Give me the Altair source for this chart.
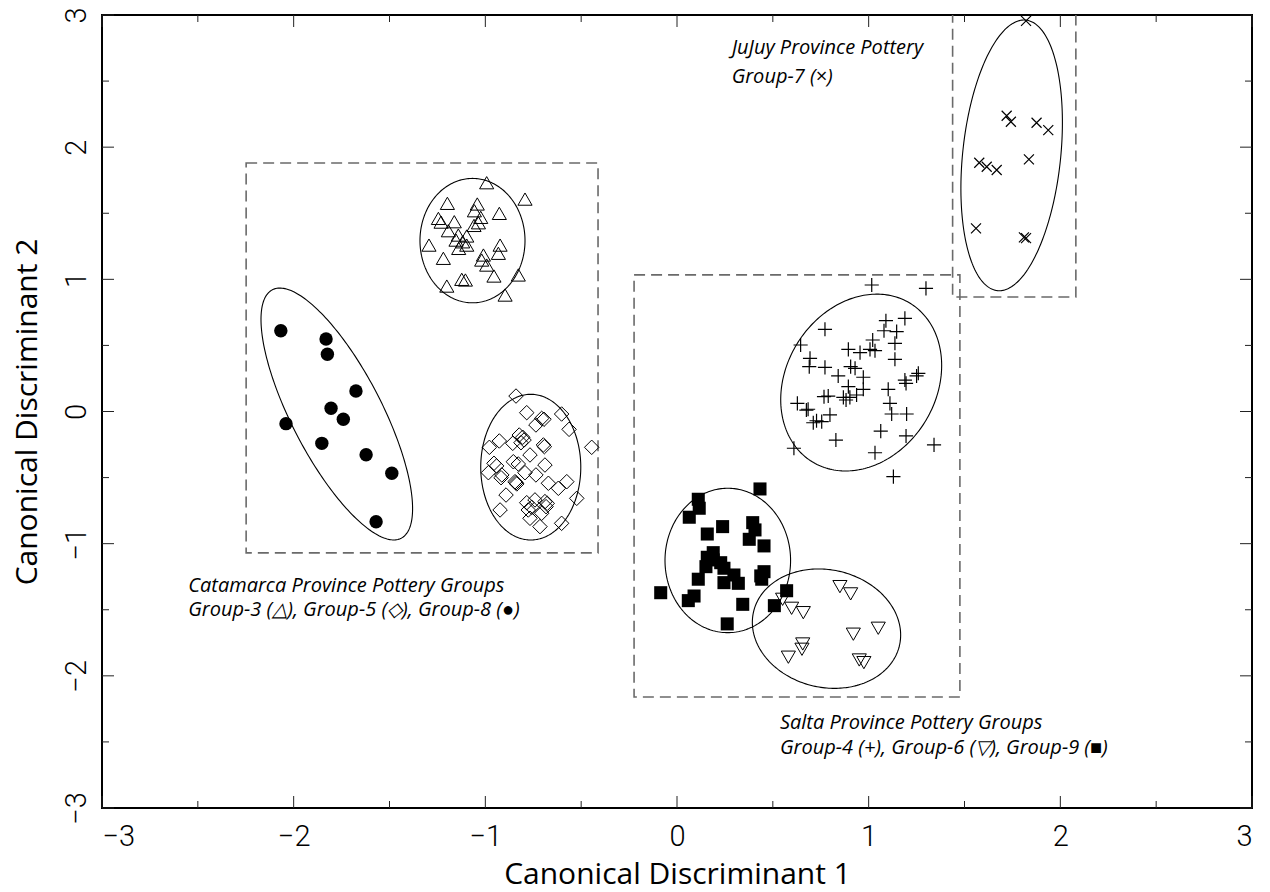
import numpy as np
import pandas as pd
import altair as alt

# plot area in pixels
W, H = 1150, 793

# ---- Catamarca Province groups ----
# Group-3 (open triangles)
g3_x = [-0.993, -0.793, -1.198, -1.042, -1.057, -0.927, -1.245, -1.231, -1.162, -1.024,
        -1.036, -1.059, -1.193, -1.141, -1.097, -1.153, -1.118, -1.294, -1.139, -1.097,
        -0.923, -0.932, -1.219, -1.010, -1.019, -0.993, -0.828, -0.955, -1.123, -1.104,
        -1.201, -0.897]
g3_y = [1.731, 1.607, 1.575, 1.570, 1.519, 1.499, 1.461, 1.433, 1.436, 1.469,
        1.428, 1.408, 1.368, 1.335, 1.328, 1.297, 1.284, 1.259, 1.234, 1.259,
        1.259, 1.197, 1.159, 1.184, 1.146, 1.108, 1.033, 1.025, 1.000, 0.995,
        0.949, 0.881]

# Group-5 (open diamonds)
g5_x = [-0.840, -0.784, -0.706, -0.694, -0.602, -0.563, -0.736, -0.823, -0.805, -0.798,
        -0.814, -0.927, -0.979, -0.857, -0.697, -0.692, -0.445, -0.767, -0.955, -0.941,
        -0.854, -0.828, -0.689, -0.984, -0.914, -0.793, -0.736, -0.918, -0.845, -0.840,
        -0.836, -0.671, -0.575, -0.619, -0.892, -0.523, -0.784, -0.741, -0.689, -0.677,
        -0.683, -0.758, -0.776, -0.923, -0.767, -0.706, -0.602, -0.715]
g5_y = [0.117, -0.009, -0.052, -0.059, -0.019, -0.135, -0.102, -0.178, -0.195, -0.216,
        -0.236, -0.223, -0.271, -0.241, -0.253, -0.266, -0.271, -0.329, -0.392, -0.412,
        -0.380, -0.397, -0.405, -0.463, -0.480, -0.463, -0.480, -0.501, -0.531, -0.539,
        -0.548, -0.543, -0.531, -0.581, -0.632, -0.657, -0.690, -0.669, -0.682, -0.695,
        -0.720, -0.725, -0.745, -0.745, -0.808, -0.770, -0.846, -0.871]

# Group-8 (filled circles)
g8_x = [-2.067, -1.831, -1.824, -1.675, -1.805, -1.741, -2.040, -1.853, -1.622, -1.488, -1.570]
g8_y = [0.611, 0.548, 0.433, 0.155, 0.024, -0.059, -0.092, -0.241, -0.327, -0.467, -0.834]

# ---- Salta Province groups ----
# Group-4 (plus signs)
g4_x = [1.016, 1.299, 1.189, 1.090, 0.772, 1.080, 1.146, 1.021, 1.137, 0.645,
        0.894, 0.955, 1.007, 1.033, 0.694, 1.137, 0.690, 0.772, 0.906, 0.929,
        0.841, 0.972, 1.259, 1.250, 1.189, 1.195, 0.894, 0.972, 0.789, 0.767,
        0.868, 0.902, 0.882, 0.937, 1.102, 0.628, 1.111, 0.675, 0.728, 0.755,
        0.798, 1.120, 1.198, 1.063, 1.195, 1.341, 0.829, 0.610, 1.033, 1.129,
        0.684, 0.711]
g4_y = [0.957, 0.932, 0.705, 0.687, 0.622, 0.611, 0.604, 0.541, 0.516, 0.503,
        0.470, 0.445, 0.470, 0.460, 0.402, 0.395, 0.339, 0.334, 0.339, 0.327,
        0.269, 0.259, 0.289, 0.269, 0.238, 0.213, 0.188, 0.168, 0.117, 0.112,
        0.107, 0.107, 0.087, 0.125, 0.168, 0.062, 0.062, 0.011, -0.070, -0.077,
        -0.026, -0.019, -0.019, -0.148, -0.185, -0.253, -0.216, -0.278, -0.312, -0.493,
        0.017, -0.085]

# Group-6 (open inverted triangles)
g6_x = [0.850, 0.906, 0.551, 0.598, 0.659, 1.050, 0.920, 0.656, 0.652, 0.581, 0.951, 0.975]
g6_y = [-1.325, -1.380, -1.421, -1.489, -1.522, -1.640, -1.685, -1.759, -1.799, -1.859, -1.880, -1.900]

# Group-9 (filled squares)
g9_x = [0.433, 0.111, 0.116, 0.064, 0.395, 0.407, 0.238, 0.158, 0.377, 0.454,
        0.189, 0.158, 0.228, 0.151, 0.245, 0.454, 0.297, 0.111, 0.442, 0.245,
        0.320, -0.085, 0.572, 0.089, 0.059, 0.343, 0.508, 0.262, 0.189, 0.437]
g9_y = [-0.586, -0.664, -0.732, -0.800, -0.841, -0.896, -0.871, -0.927, -0.967, -1.017,
        -1.068, -1.103, -1.144, -1.174, -1.186, -1.212, -1.237, -1.269, -1.269, -1.295,
        -1.300, -1.371, -1.356, -1.396, -1.431, -1.459, -1.469, -1.607, -1.123, -1.244]

# ---- JuJuy Province group ----
# Group-7 (crosses)
g7_x = [1.821, 1.720, 1.742, 1.876, 1.937, 1.577, 1.616, 1.668, 1.836, 1.560, 1.810, 1.821]
g7_y = [2.956, 2.238, 2.192, 2.185, 2.129, 1.882, 1.852, 1.827, 1.908, 1.386, 1.318, 1.312]

# group ellipses: centre, semi-axes (x-axis units) and tilt on screen (degrees)
ell_name = ["G3", "G5", "G8", "G4", "G6", "G9", "G7"]
ell_cx = [-1.067, -0.763, -1.775, 0.961, 0.780, 0.265, 1.746]
ell_cy = [1.293, -0.421, -0.019, 0.219, -1.643, -1.127, 1.938]
ell_a = [0.3245, 0.380, 0.730, 0.486, 0.3907, 0.3767, 0.7095]
ell_b = [0.274, 0.261, 0.235, 0.391, 0.3067, 0.3276, 0.2556]
ell_ang = [90, 90, -62.6, 58, -13, 90, 84]

# province boxes
box_x = [-2.248, -0.224, 1.438]
box_x2 = [-0.412, 1.476, 2.081]
box_y = [1.880, 1.034, 3.100]
box_y2 = [-1.070, -2.160, 0.866]

# annotations
note_text = ["Catamarca Province Pottery Groups",
             "Group-3 (\u25b3), Group-5 (\u25c7), Group-8 (\u25cf)",
             "Salta Province Pottery Groups",
             "Group-4 (+), Group-6 (\u25bd), Group-9 (\u25a0)",
             "JuJuy Province Pottery",
             "Group-7 (\u00d7)"]
note_x = [-2.55, -2.55, 0.537, 0.537, 0.285, 0.285]
note_y = [-1.362, -1.551, -2.406, -2.595, 2.705, 2.485]

major_ticks = [-3, -2, -1, 0, 1, 2, 3]
minor_ticks = [-2.5, -1.5, -0.5, 0.5, 1.5, 2.5]

LABEL_FONT = "Roboto"
TITLE_FONT = "Open Sans"

scale = alt.Scale(domain=[-3, 3], nice=False, zero=False)


def X(field):
    return alt.X(field, type="quantitative", scale=scale,
                 axis=alt.Axis(values=major_ticks, title="Canonical Discriminant 1",
                               domain=False, ticks=False, grid=False, labelFlush=True,
                               labelPadding=14, labelFont=LABEL_FONT, labelFontSize=29,
                               labelFontWeight=300, labelColor="black",
                               titleFont=TITLE_FONT, titleFontSize=30, titleFontWeight="normal",
                               titleColor="black", titleX=W / 2, titleY=66,
                               titleBaseline="middle", titleAlign="center"))


def Y(field):
    return alt.Y(field, type="quantitative", scale=scale,
                 axis=alt.Axis(values=major_ticks, title="Canonical Discriminant 2",
                               domain=False, ticks=False, grid=False,
                               labelAngle=270, labelAlign="center", labelBaseline="bottom",
                               labelPadding=11, labelFont=LABEL_FONT, labelFontSize=29,
                               labelFontWeight=300, labelColor="black",
                               titleFont=TITLE_FONT, titleFontSize=30, titleFontWeight="normal",
                               titleColor="black", titleAngle=270, titleX=-75, titleY=H / 2,
                               titleBaseline="middle", titleAlign="center"))


# ellipse outlines
px_per_x = W / 6.0
px_per_y = H / 6.0
t = np.linspace(0, 2 * np.pi, 241)
rows = []
for name, cx, cy, a, b, ang in zip(ell_name, ell_cx, ell_cy, ell_a, ell_b, ell_ang):
    th = np.radians(ang)
    ex = cx + a * np.cos(t) * np.cos(th) - b * np.sin(t) * np.sin(th)
    ey = cy + (a * np.cos(t) * np.sin(th) + b * np.sin(t) * np.cos(th)) * px_per_x / px_per_y
    for k, (u, v) in enumerate(zip(ex, ey)):
        rows.append({"g": name, "k": k, "x": u, "y": v})
ell_df = pd.DataFrame(rows)

ellipses = alt.Chart(ell_df).mark_line(color="black", strokeWidth=1.1).encode(
    x=X("x"), y=Y("y"), detail="g:N", order="k:Q")

boxes = alt.Chart(pd.DataFrame({"x": box_x, "x2": box_x2, "y": box_y, "y2": box_y2})).mark_rect(
    filled=False, stroke="#6a6a6a", strokeWidth=1.6, strokeDash=[11, 6], clip=True
).encode(x=X("x"), x2="x2", y=Y("y"), y2="y2")


def points(xs, ys, shape, size, filled, sw=1.0):
    df = pd.DataFrame({"x": xs, "y": ys})
    if filled:
        mk = alt.Chart(df).mark_point(shape=shape, size=size, filled=True, fill="black",
                                      strokeWidth=0, opacity=1)
    else:
        mk = alt.Chart(df).mark_point(shape=shape, size=size, filled=False, stroke="black",
                                      strokeWidth=sw, opacity=1)
    return mk.encode(x=X("x"), y=Y("y"))


PLUS = "M-1,0L1,0M0,-1L0,1"
CROSS = "M-1,-1L1,1M-1,1L1,-1"

p3 = points(g3_x, g3_y, "triangle-up", 200, False)
p5 = points(g5_x, g5_y, "diamond", 210, False)
p8 = points(g8_x, g8_y, "circle", 180, True)
p4 = points(g4_x, g4_y, PLUS, 200, False, 1.2)
p6 = points(g6_x, g6_y, "triangle-down", 200, False)
p9 = points(g9_x, g9_y, "square", 170, True)
p7 = points(g7_x, g7_y, CROSS, 100, False, 1.2)

notes = alt.Chart(pd.DataFrame({"x": note_x, "y": note_y, "s": note_text})).mark_text(
    align="left", baseline="alphabetic", font=TITLE_FONT, fontStyle="italic",
    fontSize=20, color="black"
).encode(x=X("x"), y=Y("y"), text="s:N")

# frame ticks on all four sides, pointing inward
maj = pd.DataFrame({"v": major_ticks})
mnr = pd.DataFrame({"v": minor_ticks})
tick_layers = []
for df, ln in ((maj, 12), (mnr, 7)):
    base = alt.Chart(df).mark_rule(color="#222222", strokeWidth=1)
    tick_layers.append(base.encode(x=X("v"), y=alt.value(H), y2=alt.value(H - ln)))
    tick_layers.append(base.encode(x=X("v"), y=alt.value(0), y2=alt.value(ln)))
    tick_layers.append(base.encode(y=Y("v"), x=alt.value(0), x2=alt.value(ln)))
    tick_layers.append(base.encode(y=Y("v"), x=alt.value(W), x2=alt.value(W - ln)))

chart = alt.layer(boxes, ellipses, p3, p5, p8, p4, p6, p9, p7, notes, *tick_layers).properties(
    width=W, height=H,
    autosize=alt.AutoSizeParams(type="none"),
    padding={"left": 102, "top": 15, "right": 18, "bottom": 84},
).configure_view(stroke="black", strokeWidth=2)

chart.save("out.html", embed_options={"renderer": "svg", "actions": False})
